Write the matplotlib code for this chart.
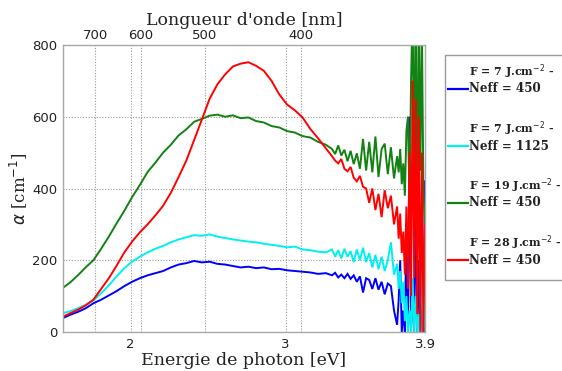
import numpy as np
import matplotlib
matplotlib.use("Agg")
import matplotlib.pyplot as plt
from matplotlib.lines import Line2D
from matplotlib.patches import Rectangle

# ---------------- data ----------------
energy_smooth = [1.56, 1.61, 1.66, 1.71, 1.76, 1.81, 1.86, 1.91, 1.96, 2.01,
                 2.06, 2.11, 2.16, 2.21, 2.26, 2.31, 2.36, 2.41, 2.46, 2.51,
                 2.56, 2.61, 2.66, 2.71, 2.76, 2.81, 2.86, 2.91, 2.96, 3.01,
                 3.06, 3.11, 3.16, 3.21, 3.26]
energy_tail = [3.30, 3.32, 3.34, 3.36, 3.38, 3.40, 3.42, 3.44, 3.46, 3.48,
               3.50, 3.52, 3.54, 3.56, 3.58, 3.60, 3.62, 3.64, 3.66, 3.68,
               3.70, 3.72, 3.73, 3.74, 3.75, 3.76, 3.77, 3.78, 3.79, 3.80,
               3.81, 3.82, 3.83, 3.84, 3.85, 3.86, 3.87, 3.88, 3.89, 3.90]

blue_smooth = [38, 48, 56, 66, 80, 90, 102, 114, 128, 140,
               150, 158, 164, 170, 180, 188, 192, 198, 194, 196,
               190, 188, 184, 180, 182, 178, 180, 175, 176, 172,
               170, 168, 166, 162, 164]
blue_tail = [158, 165, 152, 160, 150, 162, 148, 158, 140, 155,
             110, 150, 145, 120, 150, 118, 140, 105, 135, 128,
             60, 20, 90, 200, 0, 60, 0, 300, 0, 600,
             0, 150, 0, 400, 0, 200, 0, 100, 0, 420]

cyan_smooth = [52, 58, 66, 76, 88, 108, 130, 155, 178, 196,
               210, 222, 232, 240, 250, 258, 264, 270, 268, 272,
               266, 262, 258, 255, 252, 250, 246, 243, 240, 236,
               238, 230, 228, 224, 222]
cyan_tail = [230, 210, 228, 205, 232, 210, 225, 195, 230, 200,
             235, 195, 220, 180, 215, 175, 210, 170, 200, 250,
             160, 190, 120, 170, 80, 140, 30, 100, 0, 60,
             0, 150, 0, 100, 0, 50, 0, 200, 0, 100]

green_smooth = [122, 138, 158, 180, 200, 232, 266, 303, 338, 376,
                410, 446, 472, 500, 522, 548, 565, 586, 594, 603,
                606, 600, 604, 596, 598, 588, 584, 574, 570, 560,
                556, 546, 542, 530, 522]
green_tail = [510, 496, 520, 492, 508, 476, 505, 468, 498, 455,
              538, 450, 530, 445, 545, 432, 510, 525, 440, 515,
              428, 490, 445, 510, 412, 470, 380, 560, 600, 350,
              700, 900, 420, 950, 300, 900, 450, 850, 380, 300]

red_smooth = [42, 52, 62, 74, 90, 120, 150, 185, 222, 252,
              278, 300, 325, 352, 388, 432, 478, 535, 592, 650,
              690, 718, 740, 748, 752, 742, 728, 700, 662, 634,
              618, 598, 566, 540, 512]
red_tail = [490, 478, 470, 482, 455, 448, 460, 430, 420, 435,
            405, 400, 360, 400, 340, 385, 320, 395, 345, 380,
            300, 350, 260, 330, 220, 280, 160, 350, 120, 500,
            100, 700, 150, 650, 50, 600, 0, 500, 0, 300]

series_labels = ["F = 7 J.cm$^{-2}$ -\nNeff = 450",
                 "F = 7 J.cm$^{-2}$ -\nNeff = 1125",
                 "F = 19 J.cm$^{-2}$ -\nNeff = 450",
                 "F = 28 J.cm$^{-2}$ -\nNeff = 450"]
series_colors = ["#0000ff", "#00f0f0", "#128212", "#ff0000"]

wavelength_ticks = [700, 600, 500, 400]
energy_ticks = [2, 3, 3.9]
energy_tick_labels = ["2", "3", "3.9"]
alpha_ticks = [0, 200, 400, 600, 800]

# ---------------- figure ----------------
W, H = 562, 371
fig = plt.figure(figsize=(W / 100, H / 100), dpi=100)
L, R, T, B = 63, 425, 45, 332
ax = fig.add_axes([L / W, 1 - B / H, (R - L) / W, (B - T) / H])

energy = energy_smooth + energy_tail
series = [blue_smooth + blue_tail, cyan_smooth + cyan_tail,
          green_smooth + green_tail, red_smooth + red_tail]
for vals, col in zip(series, series_colors):
    ax.plot(energy, vals, color=col, lw=1.4, solid_joinstyle="miter")

ax.set_xlim(1.564, 3.9)
ax.set_ylim(0, 800)

grid_col = "#9a9a9a"
spine_col = "#a8a8a8"
for s in ax.spines.values():
    s.set_color(spine_col)
    s.set_linewidth(1.0)

ax.set_xticks(energy_ticks)
ax.set_xticklabels(energy_tick_labels)
ax.set_yticks(alpha_ticks)
ax.tick_params(axis="both", length=0, labelsize=9.5, pad=4,
               labelcolor="#222222")
for lab in ax.get_xticklabels() + ax.get_yticklabels():
    lab.set_fontfamily("DejaVu Sans")

# grid lines: horizontal at alpha ticks, vertical at energy ticks and wavelength ticks
for yv in alpha_ticks[1:-1]:
    ax.axhline(yv, color=grid_col, lw=0.8, ls=(0, (1, 1.5)), zorder=0)
for xv in energy_ticks[:-1]:
    ax.axvline(xv, color=grid_col, lw=0.8, ls=(0, (1, 1.5)), zorder=0)
wl_energy = [1239.84 / w for w in wavelength_ticks]
for xv in wl_energy:
    ax.axvline(xv, color=grid_col, lw=0.8, ls=(0, (1, 1.5)), zorder=0)

ax.set_xlabel("Energie de photon [eV]", family="DejaVu Serif", fontsize=12.5,
              labelpad=1, color="#222222")
ax.set_ylabel(r"$\alpha$ [cm$^{-1}$]", family="DejaVu Serif", fontsize=12,
              labelpad=2, color="#222222")

axt = ax.twiny()
axt.set_xlim(ax.get_xlim())
axt.set_xticks(wl_energy)
axt.set_xticklabels([str(w) for w in wavelength_ticks])
axt.tick_params(axis="x", length=0, labelsize=9.5, pad=2, labelcolor="#222222")
for s in axt.spines.values():
    s.set_visible(False)
axt.set_xlabel("Longueur d'onde [nm]", family="DejaVu Serif", fontsize=12.5,
               labelpad=3, color="#222222")

# ---------------- legend (drawn manually, box cut by figure edge) ----------------
box = Rectangle((445 / W, 1 - 280 / H), 140 / W, (280 - 55) / H,
                transform=fig.transFigure, fill=False, edgecolor="#9a9a9a",
                lw=1.0)
fig.add_artist(box)
first_line_y = [72, 129, 186, 243]
for lab, col, y0 in zip(series_labels, series_colors, first_line_y):
    l1, l2 = lab.split("\n")
    fig.text(469 / W, 1 - y0 / H, l1, family="DejaVu Serif", weight="bold",
             fontsize=7.9, va="center", ha="left", color="#222222")
    fig.text(469 / W, 1 - (y0 + 17) / H, l2, family="DejaVu Serif",
             weight="bold", fontsize=8.6, va="center", ha="left",
             color="#222222")
    fig.add_artist(Line2D([448 / W, 468 / W],
                          [1 - (y0 + 17) / H, 1 - (y0 + 17) / H],
                          transform=fig.transFigure, color=col, lw=1.6))

fig.savefig("out.png", dpi=100)
